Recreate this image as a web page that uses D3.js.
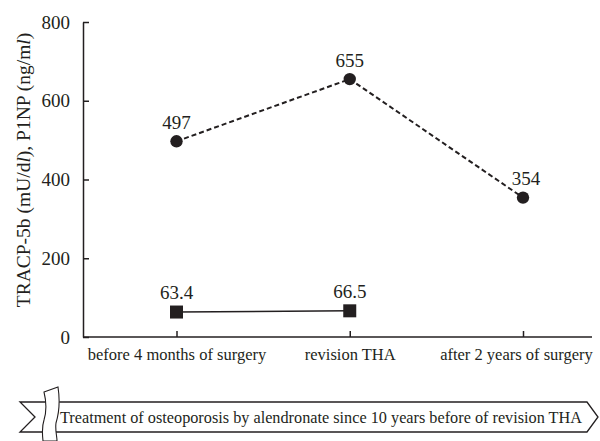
<!DOCTYPE html>
<html><head><meta charset="utf-8">
<script src="https://cdn.jsdelivr.net/npm/d3@7"></script>
<style>body{margin:0;background:#fff}svg{display:block}svg text{font-family:"Liberation Serif",serif !important;fill:#231f20}</style>
</head><body>
<svg id="c" width="600" height="441"></svg>
<script>
const categories = ["before 4 months of surgery", "revision THA", "after 2 years of surgery"];
const circleValues = [497, 655, 354];           // dashed series (circles)
const squareValues = [63.4, 66.5];              // solid series (squares)
const circleLabels = ["497", "655", "354"];
const squareLabels = ["63.4", "66.5"];
const yTicks = [0, 200, 400, 600, 800];
const bannerText = "Treatment of osteoporosis by alendronate since 10 years before of revision THA";

const svg = d3.select("#c");
const ink = "#231f20";
const FF = '"Liberation Serif", serif';
const x = d3.scalePoint().domain(categories).range([176.5, 523]).padding(0);
const y = d3.scaleLinear().domain([0, 800]).range([337, 22]);
const axisL = 83, axisR = 592;

// Y axis
const yAx = d3.axisLeft(y).tickValues(yTicks).tickSize(-6).tickPadding(13).tickSizeOuter(0);
const gy = svg.append("g").attr("transform", `translate(${axisL},0)`).call(yAx);
gy.attr("font-family", FF);
gy.select(".domain").attr("stroke", ink).attr("stroke-width", 1.5);
gy.selectAll(".tick line").attr("stroke", ink).attr("stroke-width", 1.5);
gy.selectAll(".tick text").style("font-size", "19px").style("font-family", FF).attr("fill", ink);

// X axis
const xAx = d3.axisBottom(x).tickSize(-6).tickPadding(11).tickSizeOuter(0);
const gx = svg.append("g").attr("transform", `translate(0,${y(0)})`).call(xAx);
gx.attr("font-family", FF);
gx.select(".domain").attr("d", `M${axisL},0H${axisR}`).attr("stroke", ink).attr("stroke-width", 1.5);
gx.selectAll(".tick line").attr("stroke", ink).attr("stroke-width", 1.5);
gx.selectAll(".tick text").style("font-size", "16.5px").style("font-family", FF).attr("fill", ink)
  .attr("dx", (d, i) => i === categories.length - 1 ? -7 : 0);

// Y title
const yt = svg.append("text").attr("transform", "translate(30,170) rotate(-90)")
  .attr("text-anchor", "middle").style("font-size", "19.5px").style("font-family", FF);
yt.append("tspan").text("TRACP-5b (mU/d");
yt.append("tspan").style("font-style", "italic").text("l");
yt.append("tspan").text("), P1NP (ng/m");
yt.append("tspan").style("font-style", "italic").text("l");
yt.append("tspan").text(")");

// Dashed circle series
const circData = circleValues.map((v, i) => ({c: categories[i], v, l: circleLabels[i]}));
const line = d3.line().x(d => x(d.c)).y(d => y(d.v));
svg.append("path").datum(circData).attr("d", line).attr("fill", "none")
  .attr("stroke", ink).attr("stroke-width", 2).attr("stroke-dasharray", "5,3");
svg.selectAll(".pt").data(circData).join("circle")
  .attr("cx", d => x(d.c)).attr("cy", d => y(d.v)).attr("r", 6.2).attr("fill", ink);
svg.selectAll(".cl").data(circData).join("text")
  .attr("x", (d, i) => x(d.c) + (i === 2 ? 3 : 0)).attr("y", d => y(d.v) - 12.5)
  .attr("text-anchor", "middle").style("font-size", "19px").style("font-family", FF).text(d => d.l);

// Solid square series
const sqData = squareValues.map((v, i) => ({c: categories[i], v, l: squareLabels[i]}));
svg.append("path").datum(sqData).attr("d", line).attr("fill", "none")
  .attr("stroke", ink).attr("stroke-width", 1.6);
const s = 13;
svg.selectAll(".sq").data(sqData).join("rect")
  .attr("x", d => x(d.c) - s / 2).attr("y", d => y(d.v) - s / 2)
  .attr("width", s).attr("height", s).attr("fill", ink);
svg.selectAll(".sl").data(sqData).join("text")
  .attr("x", d => x(d.c)).attr("y", d => y(d.v) - 13)
  .attr("text-anchor", "middle").style("font-size", "19px").style("font-family", FF).text(d => d.l);

// Banner
const bt = 402, bb = 432, bm = (bt + bb) / 2;
svg.append("path")
  .attr("d", `M20,${bt}L587,${bt}L598,${bm}L587,${bb}L20,${bb}L35,${bm}Z`)
  .attr("fill", "#fff").attr("stroke", ink).attr("stroke-width", 1.3);
svg.append("text").attr("x", 60).attr("y", bm + 6).style("font-size", "16.5px").style("font-family", FF)
  .attr("textLength", 522).attr("lengthAdjust", "spacingAndGlyphs").text(bannerText);
// Ribbon break
svg.append("path")
  .attr("d", "M44,392 L58,387 C60,400 60,410 56,423 C55,430 57,436 57,441 L43,441 C42,432 42,426 44,420 C47,410 46,400 44,392 Z")
  .attr("fill", "#fff").attr("stroke", ink).attr("stroke-width", 1.1);
</script>
</body></html>
